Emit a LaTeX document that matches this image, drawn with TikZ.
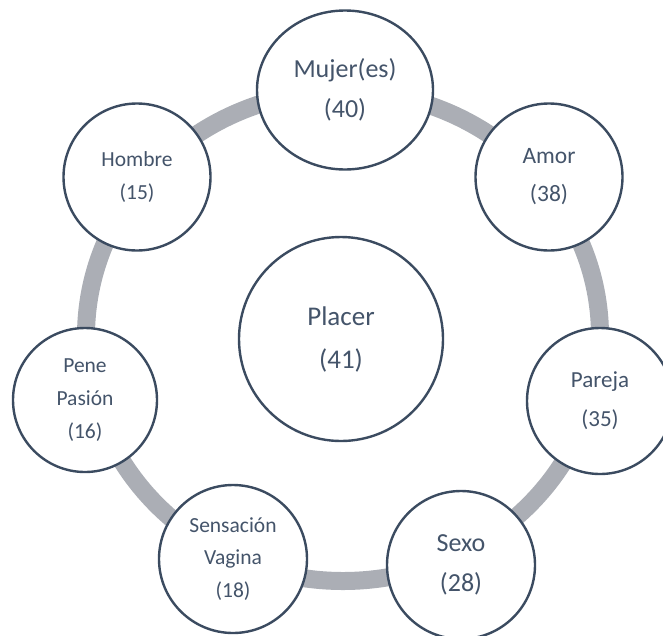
\documentclass[tikz,border=0pt]{standalone}
\usepackage{fontspec}
\setmainfont{Carlito}
\usetikzlibrary{shapes.geometric}
\definecolor{ringgray}{RGB}{171,174,181}
\definecolor{edgeblue}{RGB}{59,75,96}
\definecolor{labelblue}{RGB}{68,84,106}
\begin{document}
\begin{tikzpicture}[x=1pt,y=-1pt,
  topic/.style={circle, draw=edgeblue, line width=2.4pt, fill=white,
    text=labelblue, align=center, inner sep=0pt},
  ring/.style={draw=ringgray, line width=18pt}]
\useasboundingbox (0,0) rectangle (663,635);
% grey cycle behind the topics
\draw[ring] (343,336) ellipse [x radius=257pt, y radius=245pt];
% central topic
\node[topic, minimum size=204pt, font=\fontsize{27}{43}\selectfont]
  (placer) at (341,339) {Placer\\(41)};
% topics on the cycle
\node[topic, ellipse, minimum width=176pt, minimum height=159pt,
  font=\fontsize{26}{40}\selectfont] (mujer) at (345,90) {Mujer(es)\\(40)};
\node[topic, minimum size=147pt, font=\fontsize{23.5}{38}\selectfont]
  (amor) at (549,177) {Amor\\(38)};
\node[topic, minimum size=146pt, font=\fontsize{23}{39}\selectfont]
  (pareja) at (600,401) {Pareja\\(35)};
\node[topic, minimum size=148pt, font=\fontsize{26}{40}\selectfont]
  (sexo) at (461,565) {Sexo\\(28)};
\node[topic, minimum size=148pt, font=\fontsize{21.5}{32.5}\selectfont]
  (sensacion) at (233,559) {Sensación\\Vagina\\(18)};
\node[topic, minimum size=144pt, font=\fontsize{21.5}{33}\selectfont]
  (pene) at (85,400) {Pene\\Pasión\\(16)};
\node[topic, minimum size=147pt, font=\fontsize{21.5}{33}\selectfont]
  (hombre) at (137,177) {Hombre\\(15)};
\end{tikzpicture}
\end{document}
